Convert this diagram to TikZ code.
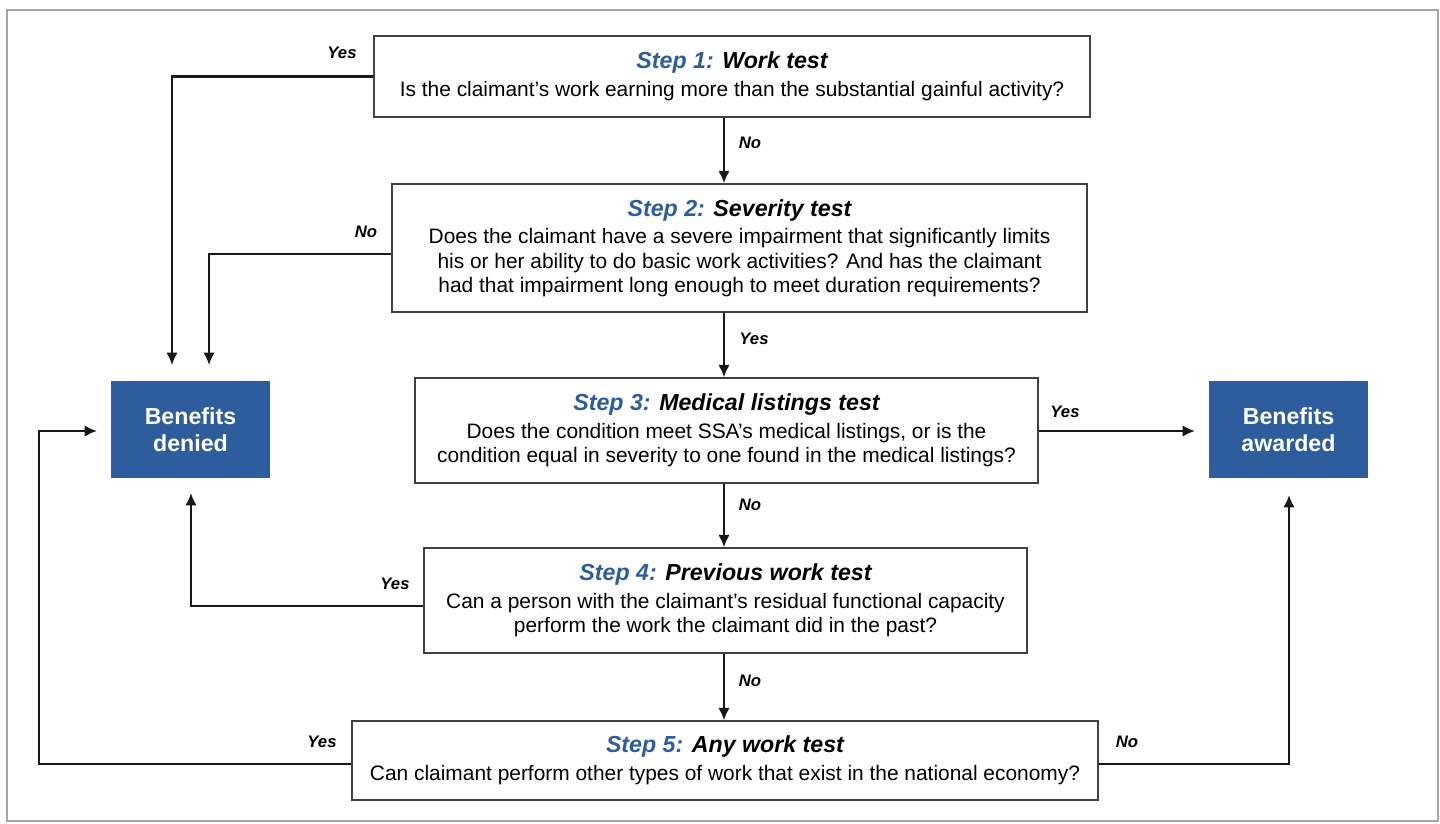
\documentclass[tikz,border=0pt]{standalone}
\usepackage{fontspec}
\setmainfont{Liberation Sans}
\usepackage{xcolor}
\usepackage{tikz}
\usetikzlibrary{arrows.meta}
\usetikzlibrary{backgrounds,positioning}
\pgfdeclarelayer{edgelayer}
\pgfdeclarelayer{nodelayer}
\pgfsetlayers{background,edgelayer,nodelayer,main}
\definecolor{ssablue}{RGB}{46,93,158}
\definecolor{boxgray}{RGB}{64,64,64}
\newcommand{\bodyfont}{\fontsize{11.9}{13.7}\selectfont}
\newcommand{\headfont}{\fontsize{13.2}{15.5}\selectfont\bfseries\itshape}
\newcommand{\ansfont}{\fontsize{9.5}{11}\selectfont\bfseries\itshape}
\newcommand{\stephead}[2]{{\headfont\textcolor{ssablue}{Step #1:} #2}\\[2pt]}
\tikzstyle{none}=[inner sep=0mm]
\tikzstyle{test box}=[rectangle,draw=boxgray,line width=0.85pt,fill=white,align=center,inner sep=0pt,font=\bodyfont]
\tikzstyle{outcome}=[rectangle,fill=ssablue,text=white,align=center,inner sep=0pt,minimum width=3.18cm,minimum height=1.94cm,font=\fontsize{13.2}{15.4}\selectfont\bfseries]
\tikzstyle{ans}=[inner sep=0pt,font=\ansfont]
\tikzstyle{diredge}=[-{Latex[length=7pt,width=6.5pt]},line width=1.3pt,black!90]

\begin{document}
\begin{tikzpicture}[x=0.02cm,y=-0.02cm]
	\useasboundingbox (0,0) rectangle (1440,823);
	\draw[gray!70,line width=0.9pt] (7,10) rectangle (1438,821);
	\begin{pgfonlayer}{nodelayer}
		\node [style={test box},minimum width=14.32cm,minimum height=1.62cm] (s1) at (732, 76.5) {\stephead{1}{Work test}Is the claimant’s work earning more than the substantial gainful activity?};
		\node [style={test box},minimum width=13.9cm,minimum height=2.56cm] (s2) at (739.5, 248) {\stephead{2}{Severity test}Does the claimant have a severe impairment that significantly limits\\his or her ability to do basic work activities? And has the claimant\\had that impairment long enough to meet duration requirements?};
		\node [style={test box},minimum width=12.46cm,minimum height=2.1cm] (s3) at (726.5, 430.5) {\stephead{3}{Medical listings test}Does the condition meet SSA’s medical listings, or is the\\condition equal in severity to one found in the medical listings?};
		\node [style={test box},minimum width=12.06cm,minimum height=2.1cm] (s4) at (725.5, 600.5) {\stephead{4}{Previous work test}Can a person with the claimant’s residual functional capacity\\perform the work the claimant did in the past?};
		\node [style={test box},minimum width=14.92cm,minimum height=1.58cm] (s5) at (725, 760.5) {\stephead{5}{Any work test}Can claimant perform other types of work that exist in the national economy?};
		\node [style=outcome] (den) at (190.5, 429.5) {Benefits\\denied};
		\node [style=outcome] (awd) at (1288.5, 429.5) {Benefits\\awarded};
		\node [style=none] (sp) at (724, 0) {};
		\node [style=none] (c1) at (172, 76.5) {};
		\node [style=none] (e1) at (172, 365) {};
		\node [style=none] (c2) at (209, 254) {};
		\node [style=none] (e2) at (209, 365) {};
		\node [style=none] (e3) at (1195, 431) {};
		\node [style=none] (c4) at (191, 606) {};
		\node [style=none] (e4) at (191, 493) {};
		\node [style=none] (c5) at (39, 764) {};
		\node [style=none] (b5) at (39, 431) {};
		\node [style=none] (e5) at (97, 431) {};
		\node [style=none] (c6) at (1289, 764) {};
		\node [style=none] (e6) at (1289, 495) {};
		\node [style=ans] (l1) at (342, 53) {Yes};
		\node [style=ans] (l2) at (750, 143) {No};
		\node [style=ans] (l3) at (366, 232) {No};
		\node [style=ans] (l4) at (754, 339) {Yes};
		\node [style=ans] (l5) at (1065, 412) {Yes};
		\node [style=ans] (l6) at (750, 505) {No};
		\node [style=ans] (l7) at (395, 584) {Yes};
		\node [style=ans] (l8) at (750, 681) {No};
		\node [style=ans] (l9) at (322, 742) {Yes};
		\node [style=ans] (l10) at (1127, 742) {No};
	\end{pgfonlayer}
	\begin{pgfonlayer}{edgelayer}
		\draw[style=diredge] (s1.south -| sp) to (s2.north -| sp);
		\draw[style=diredge] (s2.south -| sp) to (s3.north -| sp);
		\draw[style=diredge] (s3.south -| sp) to (s4.north -| sp);
		\draw[style=diredge] (s4.south -| sp) to (s5.north -| sp);
		\draw[style=diredge] (s1.west |- c1.center) -- (c1.center) -- (e1.center);
		\draw[style=diredge] (c2.center -| s2.west) -- (c2.center) -- (e2.center);
		\draw[style=diredge] (s3.east |- e3.center) -- (e3.center);
		\draw[style=diredge] (c4.center -| s4.west) -- (c4.center) -- (e4.center);
		\draw[style=diredge] (c5.center -| s5.west) -- (c5.center) -- (b5.center) -- (e5.center);
		\draw[style=diredge] (c6.center -| s5.east) -- (c6.center) -- (e6.center);
	\end{pgfonlayer}
\end{tikzpicture}
\end{document}
